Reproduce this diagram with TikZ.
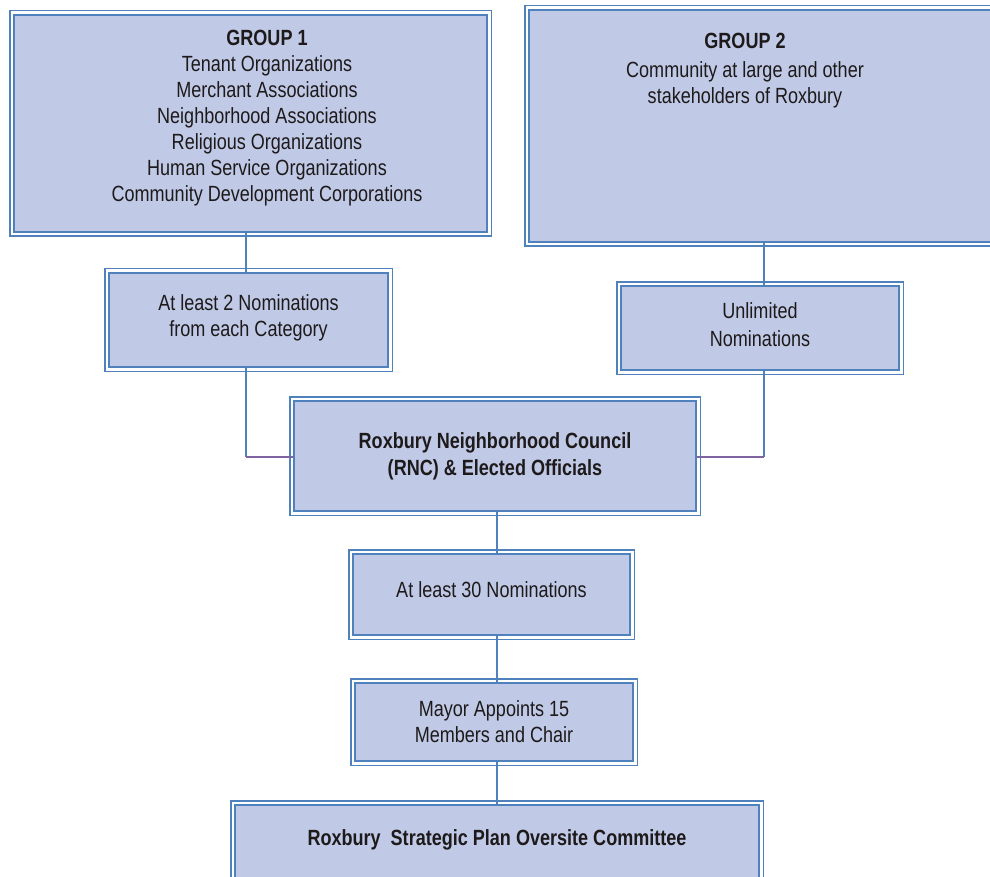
\documentclass[tikz,border=0pt]{standalone}
\usepackage{fontspec}
\setmainfont[FakeStretch=0.82]{Liberation Sans}
\usetikzlibrary{positioning}

\definecolor{rnblue}{HTML}{4F81BD}
\definecolor{rnfill}{HTML}{C0CAE6}
\definecolor{rnpurple}{HTML}{8064A2}
\definecolor{rntext}{HTML}{1E1A1B}

\tikzset{
  box/.style={draw=rnblue, line width=1.2pt, fill=rnfill, inner sep=0pt,
    align=center, text=rntext, font=\fontsize{11}{13}\selectfont},
  outerframe/.style={draw=rnblue, line width=0.7pt},
  txt/.style={align=center, text=rntext, font=\fontsize{11}{13}\selectfont},
  wire/.style={draw=rnblue, line width=1.2pt},
  tiein/.style={draw=rnpurple, line width=1.2pt},
}

\begin{document}
\begin{tikzpicture}[x=0.5pt, y=-0.5pt]
        % Page frame
        \clip (0,0) rectangle (990,877);

        % Boxes
        \node[box, minimum width=236.5pt, minimum height=108.5pt] (grpA) at (250.5,123.5) {};
        \node[box, minimum width=241pt, minimum height=116pt] (grpB) at (770,126) {};
        \node[box, minimum width=139.5pt, minimum height=47pt, text depth=4pt] (nomA) at (248.5,320)
            {At least 2 Nominations\\from each Category};
        \node[box, minimum width=139pt, minimum height=42pt, text depth=3pt] (nomB) at (760,328)
            {Unlimited\\[1pt]Nominations};
        \node[box, minimum width=201pt, minimum height=55pt] (rnc) at (495,456)
            {\bfseries Roxbury Neighborhood Council\\[0.5pt]\bfseries (RNC) \& Elected Officials};
        \node[box, minimum width=138.5pt, minimum height=40.5pt, text depth=5pt] (nomC) at (491.5,594.5)
            {At least 30 Nominations};
        \node[box, minimum width=139pt, minimum height=39pt] (mayor) at (494,722)
            {Mayor Appoints 15\\Members and Chair};
        \node[box, minimum width=262pt, minimum height=50pt] (spoc) at (497,855) {};

        % Outer lines of the double borders
        \foreach \n in {grpA,grpB,nomA,nomB,rnc,nomC,mayor,spoc}
            \draw[outerframe] ([shift={(-3,-3)}]\n.north west) rectangle ([shift={(3,3)}]\n.south east);

        % Texts of the large boxes
        \node[txt] (grpAtext) at (267,118.5) {\bfseries GROUP 1\\Tenant Organizations\\Merchant Associations\\
            Neighborhood Associations\\Religious Organizations\\Human Service Organizations\\
            Community Development Corporations};
        \node[txt] (grpBtext) at (745,71) {\bfseries GROUP 2\\[1.5pt]Community at large and other\\stakeholders of Roxbury};
        \node[txt] (spoctext) at (497,840) {\bfseries Roxbury\ \ Strategic Plan Oversite Committee};

        % Joints
        \coordinate (jA) at (246,457);
        \coordinate (jB) at (764,457);
        \coordinate (spine) at (497,0);

        % Connectors
        \draw[wire] (grpA.south -| jA) -- (nomA.north -| jA);
        \draw[wire] (nomA.south -| jA) -- (jA);
        \draw[tiein] (jA) -- (rnc.west |- jA);
        \draw[wire] (grpB.south -| jB) -- (nomB.north -| jB);
        \draw[wire] (nomB.south -| jB) -- (jB);
        \draw[tiein] (jB) -- (rnc.east |- jB);
        \draw[wire] (rnc.south -| spine) -- (nomC.north -| spine);
        \draw[wire] (nomC.south -| spine) -- (mayor.north -| spine);
        \draw[wire] (mayor.south -| spine) -- (spoc.north -| spine);
    \end{tikzpicture}
\end{document}
